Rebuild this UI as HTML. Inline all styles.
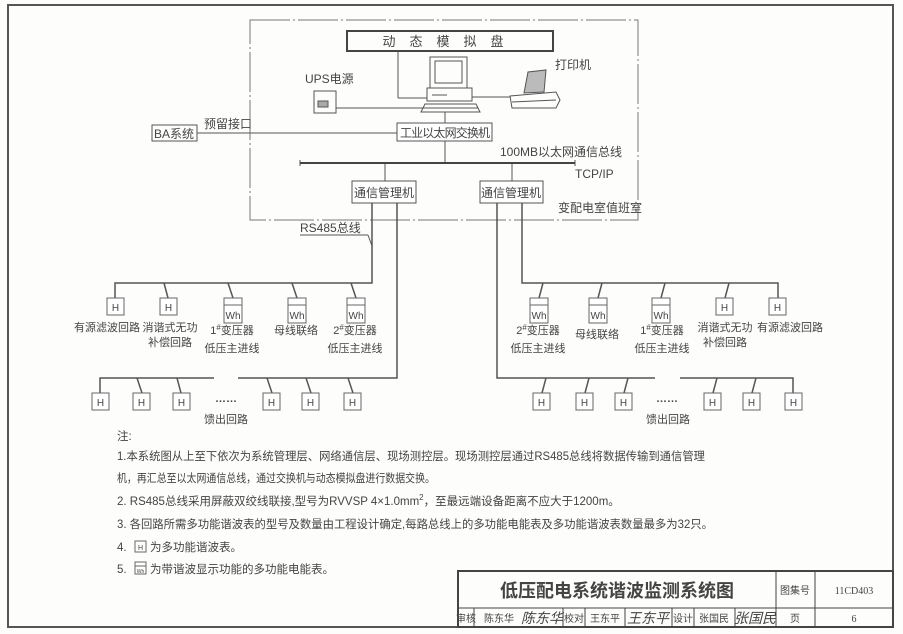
<!DOCTYPE html>
<html><head><meta charset="utf-8"><style>
body{margin:0;background:#fff;}
svg{display:block;font-family:"Liberation Sans","Noto Sans CJK SC",sans-serif;}
text{fill:#444;}
</style></head><body>
<svg width="903" height="634" viewBox="0 0 903 634" xmlns="http://www.w3.org/2000/svg">
<rect x="0" y="0" width="903" height="634" fill="#fdfdfb"/>
<rect x="8" y="5" width="885" height="622" fill="none" stroke="#555" stroke-width="2"/>
<rect x="250" y="20" width="388" height="200" fill="none" stroke="#777" stroke-width="1" stroke-dasharray="40,3,2,3"/>
<rect x="347" y="31" width="206" height="20" fill="none" stroke="#444" stroke-width="2"/>
<text x="450" y="46" font-size="13" text-anchor="middle" letter-spacing="14">动态模拟盘</text>
<g stroke="#555" fill="none" stroke-width="1">
<rect x="430" y="57" width="37" height="31"/>
<rect x="435" y="61" width="27" height="22"/>
<rect x="427" y="88" width="45" height="13"/>
<line x1="432" y1="95" x2="447" y2="95"/>
<polygon points="425,104 476,104 480,112 421,112"/>
<line x1="423" y1="108" x2="478" y2="108"/>
<polygon points="510,96 556,92 560,100 556,108 512,108"/>
<polygon points="524,93 528,72 546,70 544,92" fill="#bbb"/>
<line x1="512" y1="102" x2="556" y2="100"/>
<rect x="314" y="91" width="22" height="22"/>
<rect x="318" y="101" width="10" height="6" fill="#aaa"/>
<line x1="398" y1="51" x2="398" y2="98"/>
<line x1="398" y1="98" x2="427" y2="98"/>
<line x1="336" y1="108" x2="427" y2="108"/>
<line x1="472" y1="97" x2="510" y2="97"/>
<line x1="445" y1="112" x2="445" y2="123"/>
<rect x="397" y="123" width="95" height="18" fill="#fff"/>
<rect x="152" y="125" width="45" height="16"/>
<line x1="197" y1="133" x2="397" y2="133"/>
<line x1="445" y1="141" x2="445" y2="163"/>
<line x1="300" y1="160" x2="300" y2="166"/>
<line x1="575" y1="160" x2="575" y2="166"/>
<line x1="385" y1="163" x2="385" y2="181"/>
<line x1="512" y1="163" x2="512" y2="181"/>
<rect x="352" y="181" width="64" height="22" fill="#fff"/>
<rect x="480" y="181" width="63" height="22" fill="#fff"/>
</g>
<line x1="300" y1="163" x2="575" y2="163" stroke="#444" stroke-width="2"/>
<text x="445" y="137" font-size="12" text-anchor="middle" textLength="90">工业以太网交换机</text>
<text x="174" y="138" font-size="12" text-anchor="middle">BA系统</text>
<text x="204" y="128" font-size="12">预留接口</text>
<text x="305" y="83" font-size="12">UPS电源</text>
<text x="555" y="69" font-size="12">打印机</text>
<text x="500" y="156" font-size="12">100MB以太网通信总线</text>
<text x="575" y="178" font-size="12">TCP/IP</text>
<text x="384" y="197" font-size="12" text-anchor="middle">通信管理机</text>
<text x="511" y="197" font-size="12" text-anchor="middle">通信管理机</text>
<text x="558" y="212" font-size="12">变配电室值班室</text>
<text x="300" y="232" font-size="12">RS485总线</text>
<g stroke="#555" fill="none" stroke-width="1.5">
<line x1="300" y1="235" x2="368" y2="235" stroke-width="1"/>
<line x1="368" y1="235" x2="372" y2="246" stroke-width="1"/>
<polyline points="372,203 372,283 115,283 115,298"/>
<polyline points="397,203 397,378 238,378"/>
<polyline points="214,378 100,378 100,393"/>
<polyline points="497,203 497,378 655,378"/>
<polyline points="680,378 793,378 793,393"/>
<polyline points="522,203 522,283 778,283 778,298"/>
<line x1="164" y1="283" x2="168" y2="298"/>
<line x1="228" y1="283" x2="233" y2="298"/>
<line x1="292" y1="283" x2="297" y2="298"/>
<line x1="351" y1="283" x2="356" y2="298"/>
<line x1="137" y1="378" x2="142" y2="393"/>
<line x1="177" y1="378" x2="181" y2="393"/>
<line x1="267" y1="378" x2="272" y2="393"/>
<line x1="306" y1="378" x2="311" y2="393"/>
<line x1="348" y1="378" x2="353" y2="393"/>
<line x1="543" y1="283" x2="539" y2="298"/>
<line x1="602" y1="283" x2="598" y2="298"/>
<line x1="665" y1="283" x2="661" y2="298"/>
<line x1="729" y1="283" x2="725" y2="298"/>
<line x1="546" y1="378" x2="542" y2="393"/>
<line x1="589" y1="378" x2="585" y2="393"/>
<line x1="628" y1="378" x2="624" y2="393"/>
<line x1="717" y1="378" x2="713" y2="393"/>
<line x1="756" y1="378" x2="752" y2="393"/>
</g>
<g stroke="#666" fill="#fff" stroke-width="1">
<rect x="107" y="298" width="17" height="17"/>
<rect x="160" y="298" width="17" height="17"/>
<rect x="716" y="298" width="17" height="17"/>
<rect x="769" y="298" width="17" height="17"/>
<rect x="224" y="298" width="18" height="25"/><line x1="224" y1="305" x2="242" y2="305"/>
<rect x="288" y="298" width="18" height="25"/><line x1="288" y1="305" x2="306" y2="305"/>
<rect x="347" y="298" width="18" height="25"/><line x1="347" y1="305" x2="365" y2="305"/>
<rect x="530" y="298" width="18" height="25"/><line x1="530" y1="305" x2="548" y2="305"/>
<rect x="589" y="298" width="18" height="25"/><line x1="589" y1="305" x2="607" y2="305"/>
<rect x="652" y="298" width="18" height="25"/><line x1="652" y1="305" x2="670" y2="305"/>
<rect x="92" y="393" width="17" height="17"/>
<rect x="133" y="393" width="17" height="17"/>
<rect x="173" y="393" width="17" height="17"/>
<rect x="263" y="393" width="17" height="17"/>
<rect x="302" y="393" width="17" height="17"/>
<rect x="344" y="393" width="17" height="17"/>
<rect x="533" y="393" width="17" height="17"/>
<rect x="576" y="393" width="17" height="17"/>
<rect x="615" y="393" width="17" height="17"/>
<rect x="704" y="393" width="17" height="17"/>
<rect x="743" y="393" width="17" height="17"/>
<rect x="785" y="393" width="17" height="17"/>
</g>
<g font-size="10" text-anchor="middle">
<text x="115.5" y="311">H</text><text x="168.5" y="311">H</text><text x="724.5" y="311">H</text><text x="777.5" y="311">H</text>
<text x="233" y="319">Wh</text><text x="297" y="319">Wh</text><text x="356" y="319">Wh</text>
<text x="539" y="319">Wh</text><text x="598" y="319">Wh</text><text x="661" y="319">Wh</text>
<text x="100.5" y="406">H</text><text x="141.5" y="406">H</text><text x="181.5" y="406">H</text><text x="271.5" y="406">H</text><text x="310.5" y="406">H</text><text x="352.5" y="406">H</text>
<text x="541.5" y="406">H</text><text x="584.5" y="406">H</text><text x="623.5" y="406">H</text><text x="712.5" y="406">H</text><text x="751.5" y="406">H</text><text x="793.5" y="406">H</text>
</g>
<g font-size="11" text-anchor="middle">
<text x="107" y="331">有源滤波回路</text>
<text x="170" y="331">消谐式无功</text><text x="170" y="346">补偿回路</text>
<text x="232" y="334">1<tspan font-size="8" dy="-4">#</tspan><tspan dy="4">变压器</tspan></text><text x="232" y="352">低压主进线</text>
<text x="296" y="334">母线联络</text>
<text x="355" y="334">2<tspan font-size="8" dy="-4">#</tspan><tspan dy="4">变压器</tspan></text><text x="355" y="352">低压主进线</text>
<text x="538" y="334">2<tspan font-size="8" dy="-4">#</tspan><tspan dy="4">变压器</tspan></text><text x="538" y="352">低压主进线</text>
<text x="597" y="338">母线联络</text>
<text x="662" y="334">1<tspan font-size="8" dy="-4">#</tspan><tspan dy="4">变压器</tspan></text><text x="662" y="352">低压主进线</text>
<text x="725" y="331">消谐式无功</text><text x="725" y="346">补偿回路</text>
<text x="790" y="331">有源滤波回路</text>
<text x="226" y="402" font-weight="bold">……</text>
<text x="226" y="423">馈出回路</text>
<text x="667" y="402" font-weight="bold">……</text>
<text x="668" y="423">馈出回路</text>
</g>
<g font-size="11.5">
<text x="117" y="440">注:</text>
<text x="117" y="460" textLength="588" lengthAdjust="spacingAndGlyphs">1.本系统图从上至下依次为系统管理层、网络通信层、现场测控层。现场测控层通过RS485总线将数据传输到通信管理</text>
<text x="117" y="482" textLength="318" lengthAdjust="spacingAndGlyphs">机，再汇总至以太网通信总线，通过交换机与动态模拟盘进行数据交换。</text>
<text x="117" y="505">2.  RS485总线采用屏蔽双绞线联接,型号为RVVSP  4×1.0mm<tspan font-size="8" dy="-5">2</tspan><tspan dy="5">，至最远端设备距离不应大于1200m。</tspan></text>
<text x="117" y="528" textLength="596" lengthAdjust="spacingAndGlyphs">3.  各回路所需多功能谐波表的型号及数量由工程设计确定,每路总线上的多功能电能表及多功能谐波表数量最多为32只。</text>
<text x="117" y="551">4.</text><text x="150" y="551">为多功能谐波表。</text>
<text x="117" y="573">5.</text><text x="150" y="573">为带谐波显示功能的多功能电能表。</text>
</g>
<rect x="135" y="541" width="11" height="11" fill="none" stroke="#666"/>
<text x="140.5" y="550" font-size="7" text-anchor="middle">H</text>
<rect x="135" y="562" width="11" height="12" fill="none" stroke="#666"/>
<line x1="135" y1="566" x2="146" y2="566" stroke="#666"/>
<text x="140.5" y="573" font-size="5" text-anchor="middle">Wh</text>
<g stroke="#444" fill="none">
<rect x="458" y="571" width="435" height="56" stroke-width="2"/>
<line x1="458" y1="608" x2="893" y2="608"/>
<line x1="776" y1="571" x2="776" y2="627"/>
<line x1="815" y1="571" x2="815" y2="627"/>
<line x1="474" y1="608" x2="474" y2="627"/>
<line x1="563" y1="608" x2="563" y2="627"/>
<line x1="585" y1="608" x2="585" y2="627"/>
<line x1="625" y1="608" x2="625" y2="627"/>
<line x1="672" y1="608" x2="672" y2="627"/>
<line x1="694" y1="608" x2="694" y2="627"/>
<line x1="735" y1="608" x2="735" y2="627"/>
</g>
<text x="617" y="597" font-size="18" text-anchor="middle" font-weight="bold" fill="#333">低压配电系统谐波监测系统图</text>
<g font-size="10" text-anchor="middle">
<text x="795" y="594">图集号</text>
<text x="854" y="594" font-family="Liberation Serif,serif">11CD403</text>
<text x="795" y="622">页</text>
<text x="854" y="622" font-family="Liberation Serif,serif">6</text>
<text x="466" y="622">审核</text>
<text x="499" y="622">陈东华</text>
<text x="574" y="622">校对</text>
<text x="605" y="622">王东平</text>
<text x="683" y="622">设计</text>
<text x="714" y="622">张国民</text>
</g>
<g font-size="14" font-style="italic" text-anchor="middle">
<text x="542" y="623" fill="#333">陈东华</text>
<text x="648" y="623" fill="#333">王东平</text>
<text x="755" y="623" fill="#333">张国民</text>
</g>
</svg>
</body></html>
